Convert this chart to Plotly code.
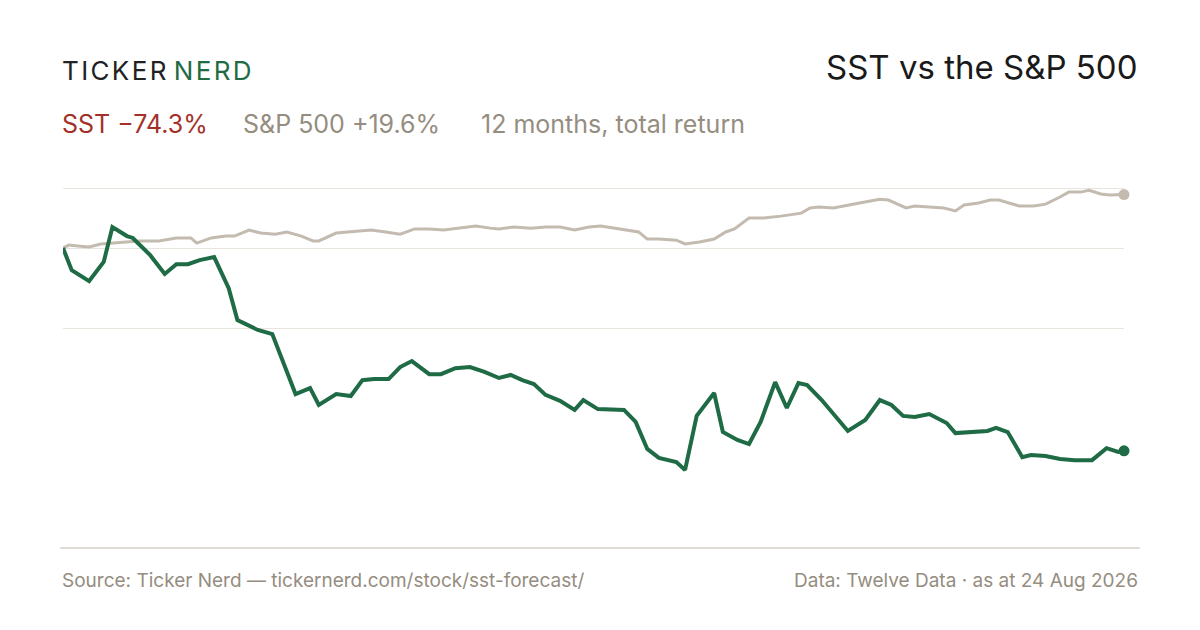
import plotly.graph_objects as go

# day offsets within the 12-month window and % total return
sst_days = [0, 3, 9, 14, 17, 22, 24, 30, 35, 39, 43, 47, 52, 57, 60, 63, 67, 72, 76, 80,
            85, 88, 94, 99, 103, 107, 112, 116, 120, 126, 130, 135, 140, 145, 150, 154, 158,
            162, 166, 171, 176, 179, 184, 189, 193, 197, 201, 205, 211, 214, 218, 224, 227,
            232, 236, 240, 245, 249, 253, 256, 261, 270, 276, 281, 285, 289, 293, 298, 304,
            307, 314, 318, 321, 325, 330, 333, 338, 343, 348, 354, 359, 363, 365]
sst_ret = [0, -8.1, -12.1, -5.1, 7.7, 4.4, 3.7, -2.6, -9.5, -5.9, -5.9, -4.4, -3.3, -14.7,
           -26.4, -27.8, -30.0, -31.5, -42.5, -53.5, -51.3, -57.5, -53.5, -54.2, -48.4, -48.0,
           -48.0, -43.6, -41.4, -46.2, -46.2, -44.0, -43.6, -45.4, -47.6, -46.5, -48.4, -49.8,
           -53.8, -56.0, -59.3, -55.7, -59.0, -59.0, -59.3, -63.7, -73.6, -76.9, -78.4, -81.3,
           -61.5, -53.1, -67.4, -70.3, -71.8, -63.7, -49.1, -58.6, -49.5, -50.2, -55.7, -67.0,
           -63.0, -55.7, -57.5, -61.5, -61.9, -60.8, -64.1, -67.8, -67.4, -67.0, -65.9, -67.4,
           -76.6, -75.8, -76.2, -77.3, -77.7, -77.7, -73.3, -74.7, -74.3]

spx_days = [0, 2, 6, 9, 13, 20, 26, 33, 39, 44, 46, 51, 56, 59, 64, 68, 73, 77, 82, 86, 88,
            94, 99, 106, 111, 116, 121, 126, 131, 137, 142, 147, 150, 155, 161, 166, 171, 176,
            181, 185, 190, 193, 198, 201, 205, 211, 214, 219, 224, 228, 231, 236, 241, 247,
            254, 257, 260, 265, 269, 274, 281, 284, 290, 293, 298, 303, 307, 310, 315, 319,
            322, 326, 329, 334, 338, 343, 346, 350, 353, 357, 360, 365]
spx_ret = [0, 1.1, 0.7, 0.4, 1.5, 2.2, 2.6, 2.6, 3.7, 3.7, 1.8, 3.7, 4.4, 4.4, 6.6, 5.5, 5.1,
           5.9, 4.4, 2.6, 2.6, 5.5, 5.9, 6.6, 5.9, 5.1, 7.0, 7.0, 6.6, 7.3, 8.1, 7.3, 7.0, 7.7,
           7.3, 7.7, 7.7, 6.6, 7.7, 8.1, 7.3, 6.6, 5.9, 3.3, 3.3, 2.9, 1.5, 2.2, 3.3, 5.9, 7.0,
           11.0, 11.0, 11.7, 12.8, 14.7, 15.0, 14.7, 15.4, 16.5, 17.9, 17.6, 14.7, 15.4, 15.0,
           14.7, 13.6, 15.8, 16.5, 17.6, 17.6, 16.5, 15.4, 15.4, 16.1, 18.7, 20.5, 20.5, 21.2,
           19.8, 19.4, 19.6]

grid_vals = [22, 0, -29.3]

GREEN = "#1e6b45"
GREY = "#c3bbb0"
MUTED = "#958d80"
FONT = "Inter, Roboto, sans-serif"

# the page puts the figure 8px in from the top-left corner
OFF = 8
FW, FH = 1200 - OFF, 630 - OFF
L, R, T, B = 63 - OFF, 76, 170 - OFF, 100
W, H = FW - L - R, FH - T - B

fig = go.Figure()
fig.add_trace(go.Scatter(x=spx_days, y=spx_ret, mode="lines",
                         line=dict(color=GREY, width=3), hoverinfo="skip"))
fig.add_trace(go.Scatter(x=sst_days, y=sst_ret, mode="lines",
                         line=dict(color=GREEN, width=4), hoverinfo="skip"))
fig.add_trace(go.Scatter(x=[spx_days[-1]], y=[spx_ret[-1]], mode="markers",
                         marker=dict(color=GREY, size=11), cliponaxis=False))
fig.add_trace(go.Scatter(x=[sst_days[-1]], y=[sst_ret[-1]], mode="markers",
                         marker=dict(color=GREEN, size=11), cliponaxis=False))

fig.update_xaxes(range=[0, 365], visible=False)
fig.update_yaxes(range=[-103.3, 28.6], tickvals=grid_vals, showticklabels=False,
                 gridcolor="#e8e5df", gridwidth=1, zeroline=False)


def px(xp, yp):
    # page pixel -> paper coords
    return (xp - OFF - L) / W, (FH - B - (yp - OFF)) / H


hs = "\u200a"
ticker = hs.join("TICKER")
nerd = hs.join("NERD")
for a in [
    dict(p=(60, 70), text=f"<span style='color:#222'>{ticker}</span> <span style='color:{GREEN}'>{nerd}</span>",
         font=dict(size=26, family=FONT), xanchor="left"),
    dict(p=(1140, 67), text="SST vs the S&P 500", font=dict(size=33, family=FONT, color="#1a1a1a"), xanchor="right"),
    dict(p=(60, 124), text="SST \u221274.3%", font=dict(size=25, family=FONT, color="#a3312a"), xanchor="left"),
    dict(p=(241, 124), text="S&P 500 +19.6%", font=dict(size=25, family=FONT, color=MUTED), xanchor="left"),
    dict(p=(479, 124), text="12 months, total return", font=dict(size=25, family=FONT, color=MUTED), xanchor="left"),
    dict(p=(60, 580), text="Source: Ticker Nerd \u2014 tickernerd.com/stock/sst-forecast/",
         font=dict(size=19, family=FONT, color=MUTED), xanchor="left"),
    dict(p=(1140, 580), text="Data: Twelve Data \u00b7 as at 24 Aug 2026",
         font=dict(size=19, family=FONT, color=MUTED), xanchor="right"),
]:
    x, y = px(*a.pop("p"))
    fig.add_annotation(xref="paper", yref="paper", x=x, y=y, showarrow=False, yanchor="middle", **a)

x0, y0 = px(60, 548)
x1, _ = px(1140, 548)
fig.add_shape(type="line", xref="paper", yref="paper", x0=x0, x1=x1, y0=y0, y1=y0,
              line=dict(color="#d6d1c8", width=1.5))

fig.update_layout(width=FW, height=FH, showlegend=False,
                  margin=dict(l=L, r=R, t=T, b=B),
                  paper_bgcolor="white", plot_bgcolor="white")

fig.write_html("out.html")
